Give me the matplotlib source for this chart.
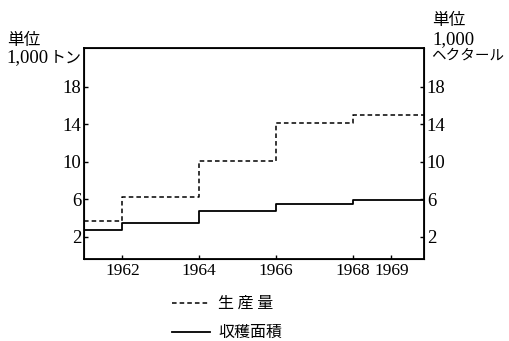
import matplotlib
matplotlib.use("Agg")
import matplotlib.pyplot as plt
from matplotlib.lines import Line2D

plt.rcParams['font.family'] = ['Liberation Serif', 'Noto Sans CJK JP', 'DejaVu Sans']

# Data (step starts)
years = [1961, 1962, 1964, 1966, 1968]
production = [3.7, 6.3, 10.1, 14.2, 15.0]   # 生産量 (1,000トン)
area = [2.7, 3.5, 4.8, 5.5, 5.9]            # 収穫面積 (1,000ヘクタール)
x_ticks = [1962, 1964, 1966, 1968, 1969]
y_ticks = [2, 6, 10, 14, 18]
x_end = 1969.85

fig = plt.figure(figsize=(5.09, 3.41), dpi=100)
ax = fig.add_axes([0.165, 0.2405, 0.668, 0.6185])

xs = years + [x_end]
ax.step(xs, production + [production[-1]], where='post', color='black',
        lw=1.1, linestyle=(0, (3, 2)))
ax.step(xs, area + [area[-1]], where='post', color='black', lw=1.3)

ax.set_xlim(1961, x_end)
ax.set_ylim(-0.35, 22.15)
ax.set_xticks(x_ticks)
ax.set_yticks(y_ticks)
ax.tick_params(direction='in', length=3, width=1, pad=2)
ax.tick_params(axis='x', labelsize=12.5, pad=3)
ax.tick_params(axis='y', labelsize=13.5)
for s in ax.spines.values():
    s.set_linewidth(1.3)

ax2 = ax.twinx()
ax2.set_ylim(-0.35, 22.15)
ax2.set_yticks(y_ticks)
ax2.tick_params(direction='in', length=3, width=1, labelsize=13.5, pad=2)

cjk = ['Noto Sans CJK JP', 'DejaVu Sans']
fig.text(7/509, 1-41/341, '単位', fontsize=12, family=cjk, va='center', ha='left')
fig.text(6/509, 1-58/341, '1,000', fontsize=13.5, va='center', ha='left')
fig.text(50/509, 1-58/341, 'トン', fontsize=11.5, family=cjk, va='center', ha='left')

fig.text(432/509, 1-20/341, '単位', fontsize=12, family=cjk, va='center', ha='left')
fig.text(432/509, 1-40/341, '1,000', fontsize=13.5, va='center', ha='left')
fig.text(431/509, 1-56/341, 'ヘクタール', fontsize=10.5, family=cjk, va='center', ha='left')

# legend
l1 = Line2D([172/509, 210/509], [1-303/341]*2, transform=fig.transFigure,
            color='black', lw=1.1, linestyle=(0, (3, 2)))
l2 = Line2D([172/509, 210/509], [1-332/341]*2, transform=fig.transFigure,
            color='black', lw=1.3)
fig.add_artist(l1)
fig.add_artist(l2)
fig.text(218/509, 1-303/341, '生 産 量', fontsize=11.5, family=cjk, va='center', ha='left')
fig.text(218/509, 1-332/341, '収穫面積', fontsize=11.5, family=cjk, va='center', ha='left')

fig.savefig('out.png', dpi=100)
